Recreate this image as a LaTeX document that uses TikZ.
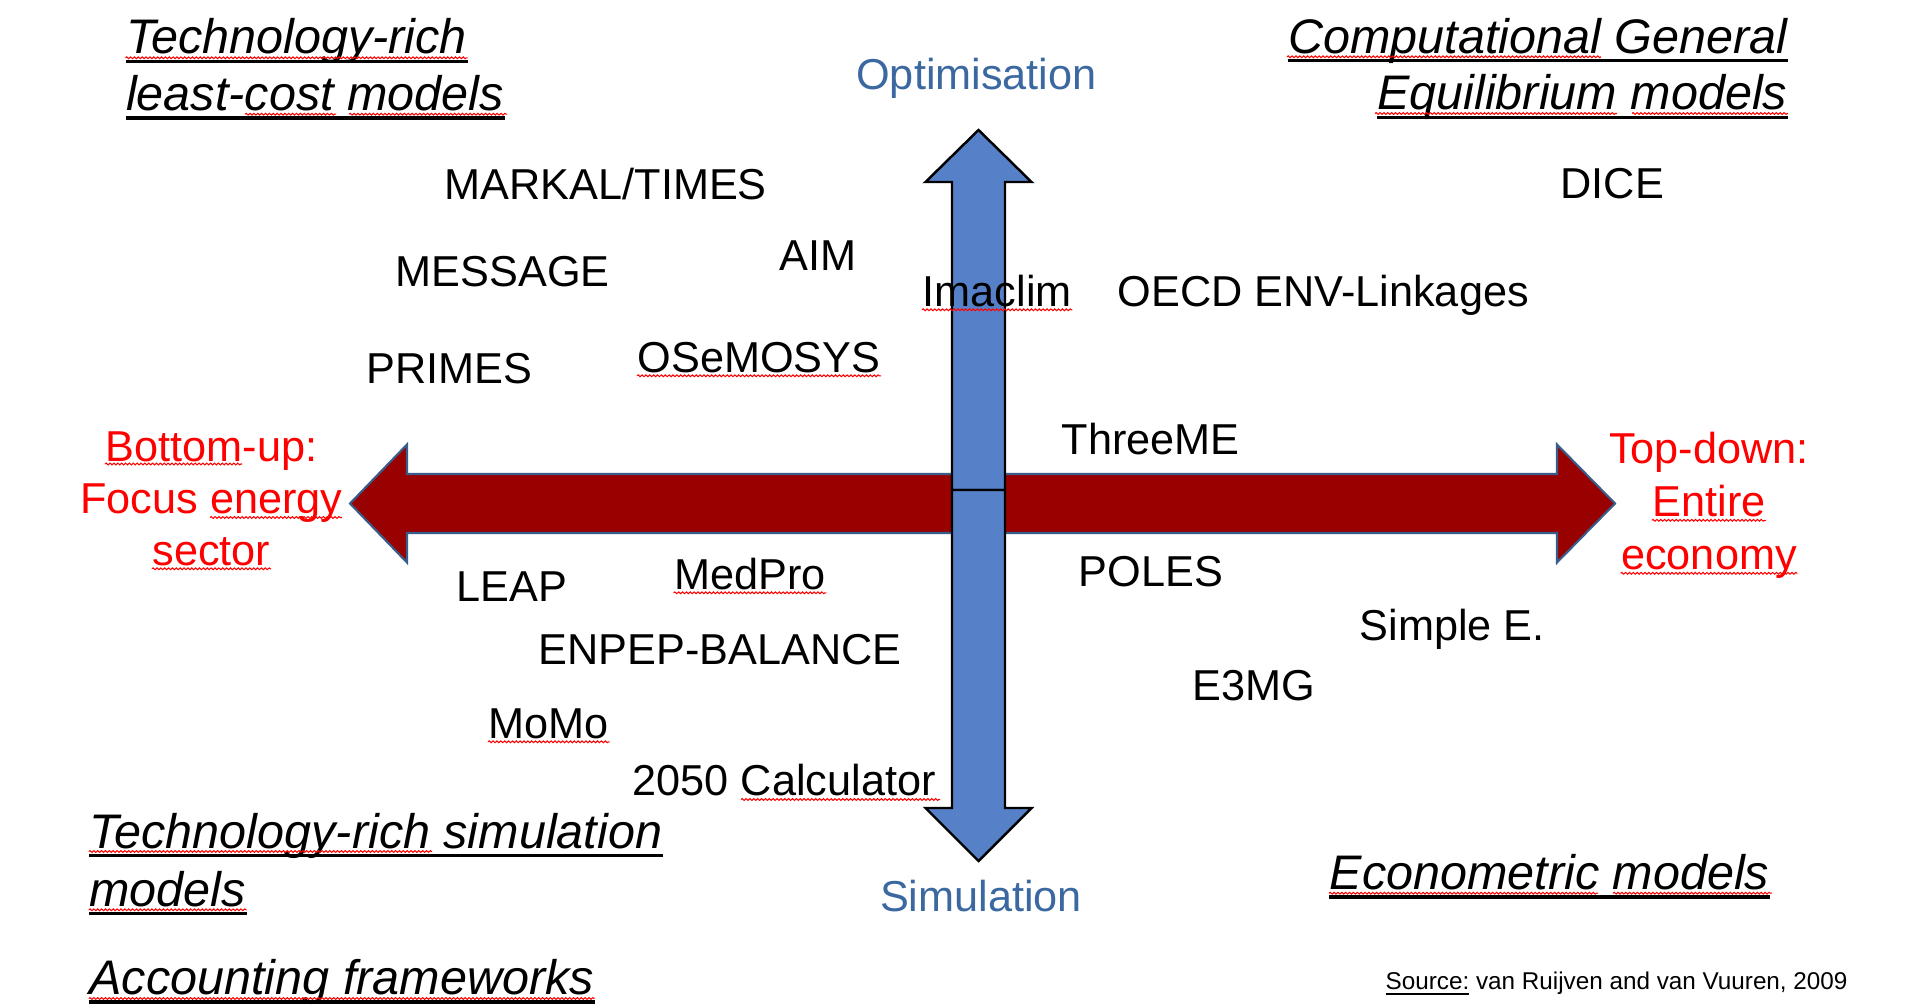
\documentclass[tikz,border=0pt]{standalone}
\usepackage{fontspec}
\setmainfont{Liberation Sans}
\usetikzlibrary{calc}
\usetikzlibrary{math}
\usetikzlibrary{decorations.pathmorphing}

\definecolor{arrowred}{HTML}{990000}
\definecolor{arrowblue}{HTML}{5681C8}
\definecolor{outlineblue}{HTML}{385D8A}
\definecolor{axisblue}{HTML}{3B68A0}

\tikzset{
  model/.style={anchor=base west, inner sep=0pt,
    font=\fontsize{12.3}{14.7}\selectfont},
  heading/.style={anchor=base west, inner sep=0pt,
    font=\fontsize{13.8}{16.5}\selectfont\itshape},
  axislabel/.style={anchor=base, inner sep=0pt, text=axisblue,
    font=\fontsize{12.3}{14.7}\selectfont},
  sidelabel/.style={anchor=base, inner sep=0pt, text=red,
    font=\fontsize{12.3}{14.7}\selectfont},
  redarrow/.style={fill=arrowred, draw=outlineblue, line width=0.6pt},
  bluearrow/.style={fill=arrowblue, draw=black, line width=0.7pt},
  headline/.style={draw=black, line width=1pt},
  spell/.style={draw=red, line width=0.3pt, decorate,
    decoration={snake, amplitude=0.25pt, segment length=1.1pt}},
}

\begin{document}
\begin{tikzpicture}[x=0.01cm, y=-0.01cm]

  \useasboundingbox (0,0) rectangle (1914,1006);

  \tikzmath{
    \midy      = 503.5; % centre line of the red arrow
    \redshaft  = 29.5;  % half width of red shaft
    \redhead   = 59;    % half width of red head
    \midx      = 978.5; % centre line of the blue arrows
    \blueshaft = 26.5;  % half width of blue shaft
    \bluehead  = 53;    % half width of blue head
    \meety     = 490;   % where up and down arrow meet
  }

  % Horizontal arrow: bottom-up / top-down
  \draw[redarrow] (350,\midy) -- (407,{\midy-\redhead}) -- (407,{\midy-\redshaft})
    -- (1557,{\midy-\redshaft}) -- (1557,{\midy-\redhead}) -- (1615,\midy)
    -- (1557,{\midy+\redhead}) -- (1557,{\midy+\redshaft})
    -- (407,{\midy+\redshaft}) -- (407,{\midy+\redhead}) -- cycle;

  % Vertical arrows: optimisation / simulation
  \draw[bluearrow] ({\midx-\blueshaft},\meety) -- ({\midx-\blueshaft},182)
    -- ({\midx-\bluehead},182) -- (\midx,130) -- ({\midx+\bluehead},182)
    -- ({\midx+\blueshaft},182) -- ({\midx+\blueshaft},\meety) -- cycle;
  \draw[bluearrow] ({\midx-\blueshaft},\meety) -- ({\midx-\blueshaft},808)
    -- ({\midx-\bluehead},808) -- (\midx,861) -- ({\midx+\bluehead},808)
    -- ({\midx+\blueshaft},808) -- ({\midx+\blueshaft},\meety) -- cycle;

  % Axis labels
  \node[axislabel] (opt) at (976.5,90)  {Optimisation};
  \node[axislabel] (sim) at (981,911)   {Simulation};

  \node[sidelabel] (bu1) at (211.5,461.7) {Bottom-up:};
  \node[sidelabel] (bu2) at (211.5,513)   {Focus energy};
  \node[sidelabel] (bu3) at (211.5,565)   {sector};
  \node[sidelabel] (td1) at (1709,463)    {Top-down:};
  \node[sidelabel] (td2) at (1709,516.5)  {Entire};
  \node[sidelabel] (td3) at (1709,569.5)  {economy};

  % Model families in the corners
  \node[heading] (tech1) at (125.5,54)    {Technology-rich};
  \node[heading] (tech2) at (125.5,110.7) {least-cost models};
  \node[heading, anchor=base east] (cge1) at (1788,53.3) {Computational General};
  \node[heading, anchor=base east] (cge2) at (1788,110)  {Equilibrium models};
  \node[heading] (sim1) at (88.8,848)   {Technology-rich simulation};
  \node[heading] (sim2) at (88.8,906)   {models};
  \node[heading] (acc)  at (88.8,994.7) {Accounting frameworks};
  \node[heading] (eco)  at (1329,889.7) {Econometric models};

  \foreach \n in {tech1,tech2,cge1,cge2,sim1,sim2,acc,eco}
    \draw[headline] ($(\n.base west)+(0,7.3)$) -- ($(\n.base east)+(0,7.3)$);

  % Models
  \node[model] (markal)   at (444,199.3)   {MARKAL/TIMES};
  \node[model] (message)  at (395,286)     {MESSAGE};
  \node[model] (aim)      at (779,270)     {AIM};
  \node[model] (imaclim)  at (922,306)     {Imaclim};
  \node[model] (oecd)     at (1117,306)    {OECD ENV-Linkages};
  \node[model] (dice)     at (1560,198)    {DICE};
  \node[model] (primes)   at (365.6,383)   {PRIMES};
  \node[model] (osemosys) at (637,372)     {OSeMOSYS};
  \node[model] (threeme)  at (1061,454)    {ThreeME};
  \node[model] (leap)     at (456,601)     {LEAP};
  \node[model] (medpro)   at (673.6,589)   {MedPro};
  \node[model] (poles)    at (1078,586)    {POLES};
  \node[model] (simplee)  at (1359,640)    {Simple E.};
  \node[model] (enpep)    at (537.7,664.7) {ENPEP-BALANCE};
  \node[model] (e3mg)     at (1192,700)    {E3MG};
  \node[model] (momo)     at (488,738)     {MoMo};
  \node[model] (calc)     at (632,795.7)   {2050 Calculator};

  % Source
  \node[anchor=base west, inner sep=0pt, font=\fontsize{6.9}{8}\selectfont]
    (src) at (1385,989) {\underline{Source:} van Ruijven and van Vuuren, 2009};

  % Spell check marks
  \foreach \n in {tech1,sim2,acc,bu3,td2,td3,imaclim,osemosys,medpro,momo}
    \draw[spell] ($(\n.base west)+(0,3.8)$) -- ($(\n.base east)+(0,3.8)$);
  \draw[spell] (245,114.2)  -- (336,114.2);
  \draw[spell] (349,114.2)  -- (507,114.2);
  \draw[spell] (1287,56.8)  -- (1601,56.8);
  \draw[spell] (1375,113.5) -- (1617,113.5);
  \draw[spell] (1632,113.5) -- (1788,113.5);
  \draw[spell] (88.8,851.5) -- (432,851.5);
  \draw[spell] (1329,893.2) -- (1598,893.2);
  \draw[spell] (1613,893.2) -- (1772,893.2);
  \draw[spell] (105,464)    -- (242,464);
  \draw[spell] (210,517.5)  -- (342,517.5);
  \draw[spell] (741,799.5)  -- (940,799.5);

\end{tikzpicture}
\end{document}
